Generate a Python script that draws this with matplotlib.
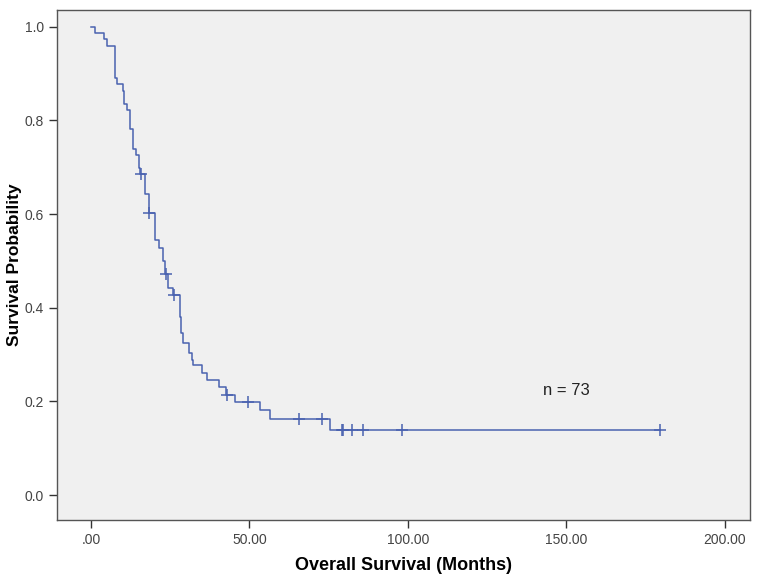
import matplotlib
matplotlib.use('Agg')
from matplotlib import pyplot as plt

# Kaplan-Meier steps (time in months, survival after the drop)
step_times = [0, 1.3, 4.1, 5.1, 7.7, 8.3, 10.0, 10.5, 11.4, 12.3, 13.3, 14.3, 15.1,
              15.5, 17.0, 18.3, 20.2, 21.5, 22.6, 23.5, 24.4, 26.0, 28.0, 28.5,
              28.9, 31.0, 31.8, 32.3, 34.9, 36.5, 40.5, 42.5, 45.4, 53.3, 56.5,
              75.4, 179.5]
step_surv = [1.0, 0.986, 0.973, 0.959, 0.890, 0.877, 0.863, 0.836, 0.822, 0.781,
             0.740, 0.726, 0.699, 0.685, 0.644, 0.603, 0.545, 0.528, 0.500, 0.472,
             0.442, 0.427, 0.380, 0.346, 0.325, 0.303, 0.288, 0.278, 0.261, 0.246,
             0.231, 0.214, 0.199, 0.182, 0.162, 0.139, 0.139]

# censored cases (+ marks)
censor_times = [15.7, 18.4, 23.7, 26.2, 42.8, 49.6, 65.5, 73.0, 79.1, 79.6, 82.2,
                85.9, 98.0, 179.5]
censor_surv = [0.685, 0.603, 0.472, 0.427, 0.214, 0.199, 0.162, 0.162, 0.139,
               0.139, 0.139, 0.139, 0.139, 0.139]

xticks = [0, 50, 100, 150, 200]
xticklabels = ['.00', '50.00', '100.00', '150.00', '200.00']
yticks = [0.0, 0.2, 0.4, 0.6, 0.8, 1.0]

plt.rcParams['font.family'] = ['Liberation Sans', 'DejaVu Sans']

fig = plt.figure(figsize=(7.61, 5.75), dpi=100)
ax = fig.add_axes([0.075, 0.0957, 0.9105, 0.887])
ax.set_facecolor('#f0f0f0')

line_col = '#4a62b0'
ax.step(step_times, step_surv, where='post', color=line_col, lw=1.1)
ax.plot(censor_times, censor_surv, linestyle='none', marker='+', markersize=8,
        markeredgewidth=1.1, color=line_col)

ax.text(150, 0.224, 'n = 73', fontsize=12, color='#222222', ha='center', va='center')

ax.set_xlim(-10.7, 207.9)
ax.set_ylim(-0.053, 1.036)
ax.set_xticks(xticks)
ax.set_xticklabels(xticklabels)
ax.set_yticks(yticks)
ax.set_yticklabels(['%.1f' % v for v in yticks])
ax.tick_params(direction='out', length=6, width=1, color='#333333',
               labelsize=10, labelcolor='#444444')

for s in ax.spines.values():
    s.set_color('#555555')
    s.set_linewidth(1)

ax.set_xlabel('Overall Survival (Months)', fontsize=13, fontweight='bold', labelpad=7)
ax.set_ylabel('Survival Probability', fontsize=12.5, fontweight='bold', labelpad=2)

plt.savefig('out.png', dpi=100)
